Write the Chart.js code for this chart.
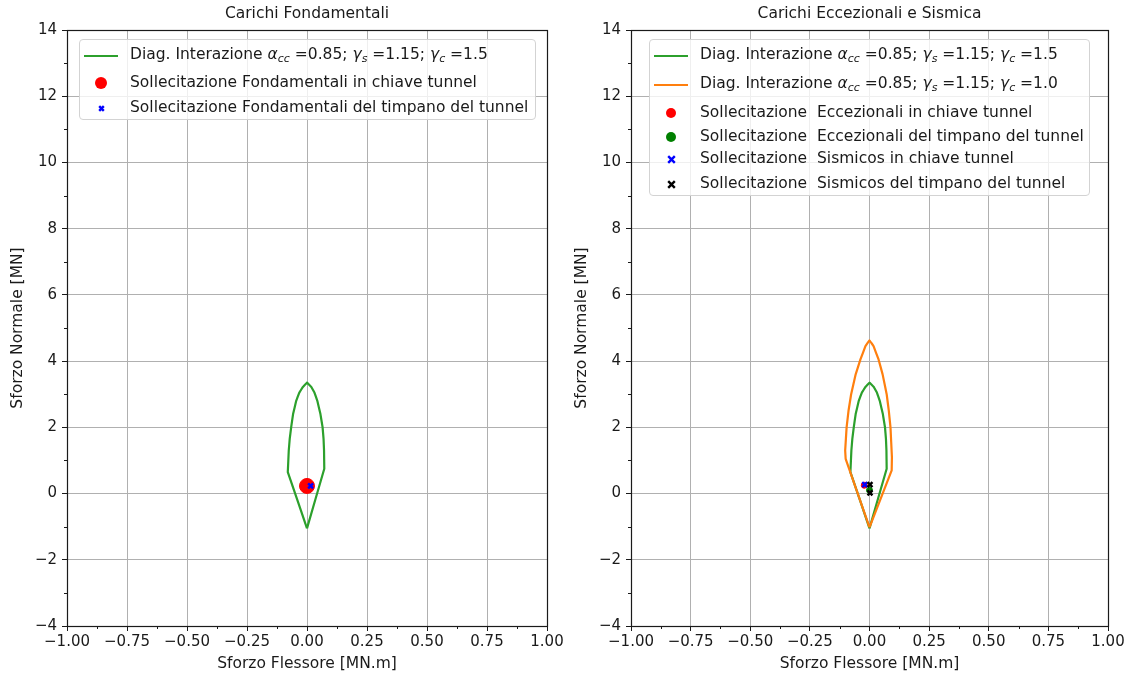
<!DOCTYPE html>
<html><head><meta charset="utf-8">
<script src="https://cdn.jsdelivr.net/npm/chart.js@4.4.1/dist/chart.umd.min.js"></script>
<style>
body{margin:0;background:#fff;width:1138px;height:680px;position:relative;overflow:hidden;font-family:"DejaVu Sans",sans-serif;}
canvas{position:absolute;top:0;}
.legend{position:absolute;background:rgba(255,255,255,0.8);border:1px solid #d3d3d3;border-radius:4px;box-sizing:border-box;color:#1a1a1a;font-size:15.5px;z-index:5;}
.row{position:absolute;white-space:pre;line-height:18px;}
.handle{position:absolute;}
sub{font-size:11px;vertical-align:-3px;font-style:italic;line-height:0;}
</style>
</head><body>
<canvas id="c1" width="580" height="680" style="left:0px"></canvas>
<canvas id="c2" width="574" height="680" style="left:564px"></canvas>
<div id="leg1" class="legend"></div>
<div id="leg2" class="legend"></div>
<script>
// ---------- data ----------
const xTickValues = [-1, -0.75, -0.5, -0.25, 0, 0.25, 0.5, 0.75, 1];
const yTickValues = [-4, -2, 0, 2, 4, 6, 8, 10, 12, 14];
const xMinorValues = [-0.875, -0.625, -0.375, -0.125, 0.125, 0.375, 0.625, 0.875];
const yMinorValues = [-3, -1, 1, 3, 5, 7, 9, 11, 13];

// Interaction diagram gamma_c = 1.5 (green)
const diag15M = [0, 0.072, 0.071, 0.069, 0.065, 0.056, 0.043, 0.031, 0.018, 0, -0.017, -0.032, -0.045, -0.058, -0.066, -0.072, -0.076, -0.08, 0];
const diag15N = [-1.05, 0.75, 1.3, 1.65, 2.0, 2.4, 2.8, 3.05, 3.22, 3.35, 3.22, 3.05, 2.8, 2.4, 2.0, 1.65, 1.3, 0.65, -1.05];
// Interaction diagram gamma_c = 1.0 (orange)
const diag10M = [0, 0.093, 0.094, 0.088, 0.081, 0.072, 0.055, 0.038, 0.017, 0, -0.017, -0.038, -0.058, -0.077, -0.088, -0.096, -0.102, -0.1, 0];
const diag10N = [-1.02, 0.7, 1.1, 2.0, 2.5, 3.0, 3.6, 4.05, 4.45, 4.63, 4.45, 4.05, 3.6, 3.0, 2.5, 2.0, 1.3, 1.05, -1.02];

// Fondamentali
const fondChiaveM = [0.0];    const fondChiaveN = [0.23];
const fondTimpanoM = [0.015]; const fondTimpanoN = [0.23];
// Eccezionali e Sismica
const eccChiaveM = [-0.022];  const eccChiaveN = [0.25];
const eccTimpanoM = [0.0];    const eccTimpanoN = [0.1];
const sisChiaveM = [-0.02];   const sisChiaveN = [0.27];
const sisTimpanoM = [0.002, 0.002]; const sisTimpanoN = [0.27, 0.02];

const titles = ['Carichi Fondamentali', 'Carichi Eccezionali e Sismica'];
const xLabel = 'Sforzo Flessore [MN.m]';
const yLabel = 'Sforzo Normale [MN]';
const legendLabels1 = [
  'Diag. Interazione <i>α</i><sub>cc</sub> =0.85; <i>γ</i><sub>s</sub> =1.15; <i>γ</i><sub>c</sub> =1.5',
  'Sollecitazione Fondamentali in chiave tunnel',
  'Sollecitazione Fondamentali del timpano del tunnel'
];
const legendLabels2 = [
  'Diag. Interazione <i>α</i><sub>cc</sub> =0.85; <i>γ</i><sub>s</sub> =1.15; <i>γ</i><sub>c</sub> =1.5',
  'Diag. Interazione <i>α</i><sub>cc</sub> =0.85; <i>γ</i><sub>s</sub> =1.15; <i>γ</i><sub>c</sub> =1.0',
  'Sollecitazione  Eccezionali in chiave tunnel',
  'Sollecitazione  Eccezionali del timpano del tunnel',
  'Sollecitazione  Sismicos in chiave tunnel',
  'Sollecitazione  Sismicos del timpano del tunnel'
];

// ---------- helpers ----------
const GREEN = '#2ca02c', ORANGE = '#ff7f0e';
const pts = (M, N) => M.map((m, i) => ({x: m, y: N[i]}));
const fmt = (v, d) => { const s = Math.abs(v).toFixed(d); return (v < -1e-9 ? '\u2212' : '') + s; };
const FONT = {family: 'DejaVu Sans', size: 15.5, weight: 'normal'};
const TICKFONT = {family: 'DejaVu Sans', size: 15, weight: 'normal'};
const TXT = '#1a1a1a';

const frameMinor = {
  id: 'frameMinor',
  afterDraw(chart) {
    const {ctx, chartArea: a, scales: {x, y}} = chart;
    ctx.save();
    ctx.strokeStyle = TXT; ctx.lineWidth = 1;
    ctx.beginPath();
    xMinorValues.forEach(v => { const p = Math.round(x.getPixelForValue(v)) + 0.5; ctx.moveTo(p, a.bottom); ctx.lineTo(p, a.bottom + 3); });
    yMinorValues.forEach(v => { const p = Math.round(y.getPixelForValue(v)) + 0.5; ctx.moveTo(a.left, p); ctx.lineTo(a.left - 3, p); });
    ctx.stroke();
    ctx.lineWidth = 1.2;
    ctx.strokeRect(Math.round(a.left) + 0.5, Math.round(a.top) + 0.5, Math.round(a.right - a.left), Math.round(a.bottom - a.top));
    ctx.restore();
  }
};

function options(title, padRight) {
  return {
    responsive: false, animation: false, devicePixelRatio: 1,
    layout: {padding: {left: 0, right: padRight, top: 0, bottom: 0}},
    plugins: {
      legend: {display: false}, tooltip: {enabled: false},
      title: {display: true, text: title, fullSize: false, color: TXT, font: FONT, padding: {top: 5, bottom: 6.4}}
    },
    scales: {
      x: {
        type: 'linear', min: -1, max: 1,
        afterBuildTicks: s => { s.ticks = xTickValues.map(v => ({value: v})); },
        ticks: {callback: v => fmt(v, 2), color: TXT, font: TICKFONT, padding: 2, maxRotation: 0, autoSkip: false},
        grid: {color: '#b0b0b0', lineWidth: 1, tickColor: TXT, tickLength: 5},
        border: {display: false},
        title: {display: true, text: xLabel, color: TXT, font: FONT, padding: {top: 7, bottom: 7}},
        afterFit: s => { s.height = 54; }
      },
      y: {
        type: 'linear', min: -4, max: 14,
        afterBuildTicks: s => { s.ticks = yTickValues.map(v => ({value: v})); },
        ticks: {callback: v => fmt(v, 0), color: TXT, font: TICKFONT, padding: 5, autoSkip: false},
        grid: {color: '#b0b0b0', lineWidth: 1, tickColor: TXT, tickLength: 5},
        border: {display: false},
        title: {display: true, text: yLabel, color: TXT, font: FONT, padding: {top: 9, bottom: 9}},
        afterFit: s => { s.width = 67; }
      }
    }
  };
}

// tiny tension forces the regular (non fast-path) segment drawing so closed curves are drawn exactly
const lineDs = (label, M, N, color, order) => ({label, data: pts(M, N), showLine: true, borderColor: color, borderWidth: 2.2, pointRadius: 0, fill: false, tension: 0.0001, borderJoinStyle: 'round', order});
const markDs = (label, M, N, color, style, r, order, bw) => ({label, data: pts(M, N), showLine: false, pointStyle: style, pointRadius: r, backgroundColor: color, borderColor: color, borderWidth: bw || 1, order});

new Chart(document.getElementById('c1'), {
  type: 'scatter',
  data: {datasets: [
    lineDs('Diag. Interazione γc=1.5', diag15M, diag15N, GREEN, 3),
    markDs('Sollecitazione Fondamentali in chiave tunnel', fondChiaveM, fondChiaveN, '#ff0000', 'circle', 7.5, 2),
    markDs('Sollecitazione Fondamentali del timpano del tunnel', fondTimpanoM, fondTimpanoN, '#0000ff', 'crossRot', 3.5, 1, 2.4)
  ]},
  options: options(titles[0], 33),
  plugins: [frameMinor]
});

new Chart(document.getElementById('c2'), {
  type: 'scatter',
  data: {datasets: [
    lineDs('Diag. Interazione γc=1.5', diag15M, diag15N, GREEN, 6),
    lineDs('Diag. Interazione γc=1.0', diag10M, diag10N, ORANGE, 5),
    markDs('Sollecitazione Eccezionali in chiave tunnel', eccChiaveM, eccChiaveN, '#ff0000', 'circle', 3, 4),
    markDs('Sollecitazione Eccezionali del timpano del tunnel', eccTimpanoM, eccTimpanoN, '#008000', 'circle', 3, 3),
    markDs('Sollecitazione Sismicos in chiave tunnel', sisChiaveM, sisChiaveN, '#0000ff', 'crossRot', 3.5, 2, 2.4),
    markDs('Sollecitazione Sismicos del timpano del tunnel', sisTimpanoM, sisTimpanoN, '#000000', 'crossRot', 3.5, 1, 2.4)
  ]},
  options: options(titles[1], 30),
  plugins: [frameMinor]
});

// ---------- legends (HTML, inside axes) ----------
function handleSvg(h) {
  if (h.type === 'line') return `<svg width="34" height="4"><line x1="0" y1="2" x2="34" y2="2" stroke="${h.color}" stroke-width="2.2"/></svg>`;
  if (h.type === 'dot') return `<svg width="${h.size}" height="${h.size}"><circle cx="${h.size/2}" cy="${h.size/2}" r="${h.size/2}" fill="${h.color}"/></svg>`;
  const s = h.size, p = 1.2;
  return `<svg width="${s}" height="${s}"><path d="M${p} ${p}L${s-p} ${s-p}M${s-p} ${p}L${p} ${s-p}" stroke="${h.color}" stroke-width="2.4"/></svg>`;
}
function buildLegend(el, box, handles, labels, rowY) {
  Object.assign(el.style, {left: box[0] + 'px', top: box[1] + 'px', width: box[2] + 'px', height: box[3] + 'px'});
  el.innerHTML = labels.map((lab, i) => {
    const h = handles[i];
    const hw = h.type === 'line' ? 34 : h.size, hh = h.type === 'line' ? 4 : h.size;
    return `<div class="handle" style="left:${21 - hw/2}px;top:${rowY[i] - hh/2}px;width:${hw}px;height:${hh}px;line-height:0">${handleSvg(h)}</div>` +
           `<div class="row" style="left:50px;top:${rowY[i] - 10}px">${lab}</div>`;
  }).join('');
}
buildLegend(document.getElementById('leg1'), [79, 39, 457, 81],
  [{type: 'line', color: GREEN}, {type: 'dot', color: '#ff0000', size: 12}, {type: 'x', color: '#0000ff', size: 7}],
  legendLabels1, [15, 43, 68]);
buildLegend(document.getElementById('leg2'), [649, 39, 441, 157],
  [{type: 'line', color: GREEN}, {type: 'line', color: ORANGE}, {type: 'dot', color: '#ff0000', size: 10}, {type: 'dot', color: '#008000', size: 10}, {type: 'x', color: '#0000ff', size: 9}, {type: 'x', color: '#000000', size: 9}],
  legendLabels2, [15, 44, 73, 97, 119, 144]);
</script>
</body></html>
